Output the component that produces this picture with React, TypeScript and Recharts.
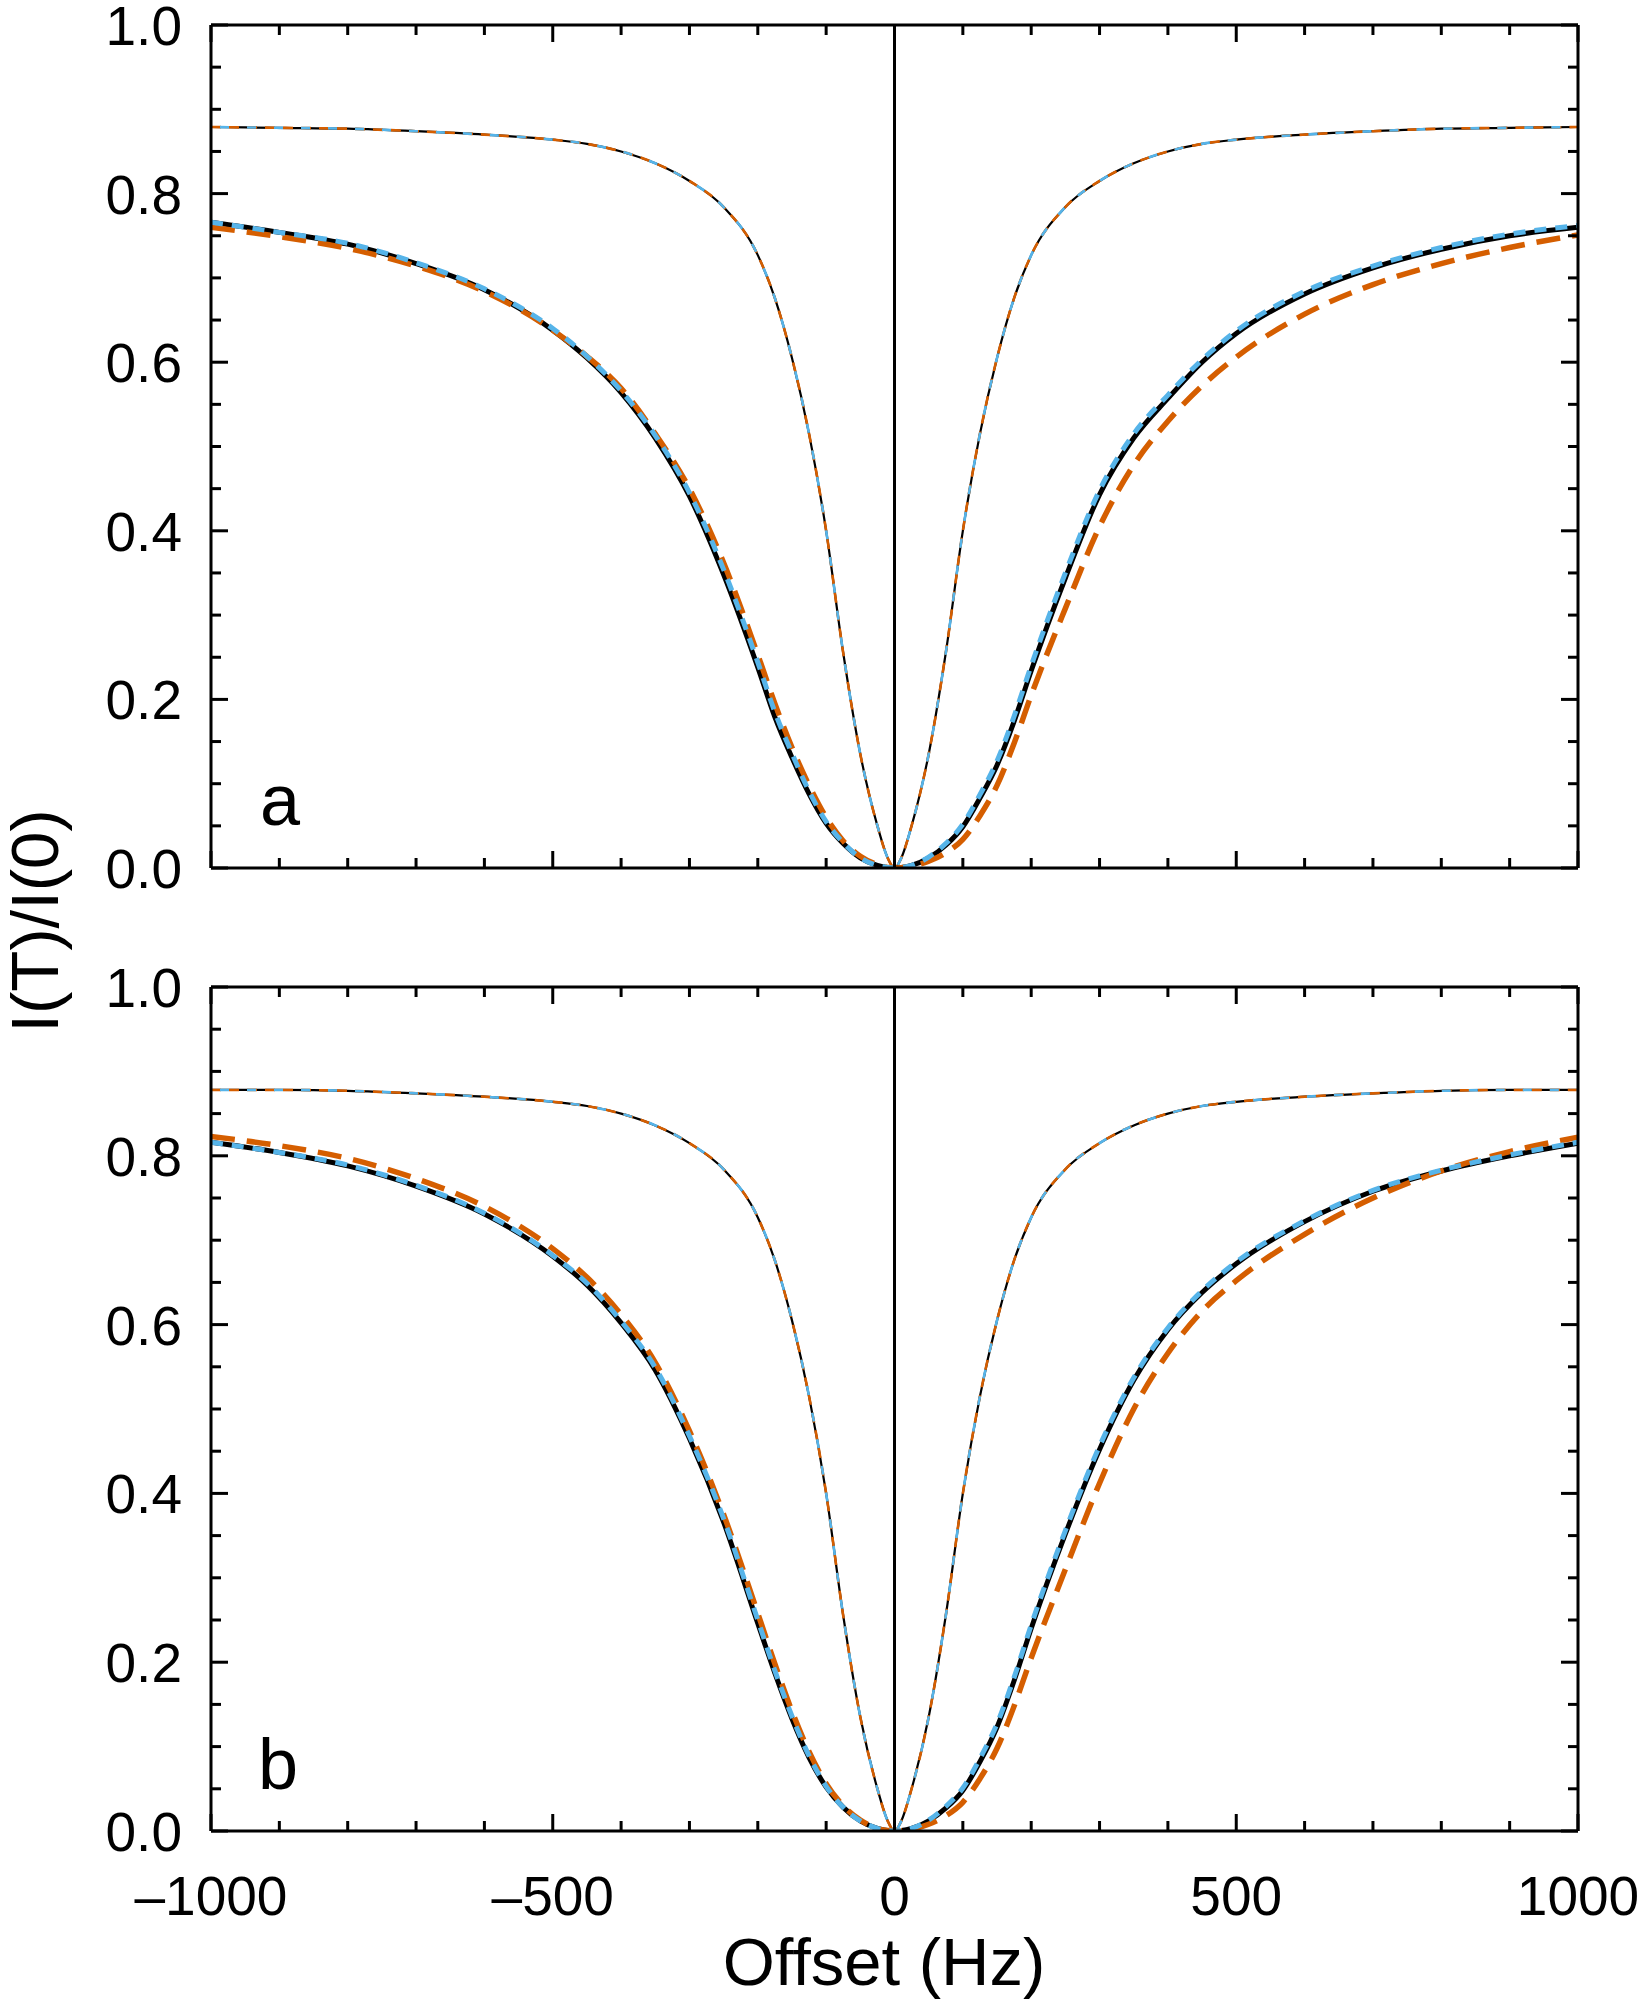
import React from 'react';
import { LineChart, Line, XAxis, YAxis, ReferenceLine } from 'recharts';

// ---------- data ----------
const offsets = [
  -1000, -900, -800, -700, -600, -500, -450, -400, -350, -300, -250, -200, -175, -150, -125, -100, -75, -50, -25, -10,
  0,
  10, 25, 50, 75, 100, 125, 150, 175, 200, 250, 300, 350, 400, 450, 500, 600, 700, 800, 900, 1000,
];

// panel a
const narrowA = [
  0.879, 0.878, 0.877, 0.874, 0.870, 0.864, 0.859, 0.850, 0.836, 0.815, 0.784, 0.727, 0.676, 0.605, 0.515, 0.400, 0.255, 0.135, 0.050, 0.012,
  0,
  0.012, 0.050, 0.135, 0.255, 0.400, 0.515, 0.605, 0.676, 0.727, 0.784, 0.815, 0.836, 0.850, 0.859, 0.864, 0.870, 0.874, 0.877, 0.878, 0.879,
];
const wideBlackA = [
  0.766, 0.754, 0.740, 0.717, 0.686, 0.638, 0.605, 0.564, 0.510, 0.441, 0.348, 0.238, 0.179, 0.131, 0.088, 0.053, 0.029, 0.012, 0.003, 0.0005,
  0,
  0.0005, 0.003, 0.012, 0.027, 0.049, 0.083, 0.122, 0.174, 0.234, 0.344, 0.443, 0.510, 0.557, 0.600, 0.634, 0.681, 0.712, 0.734, 0.750, 0.760,
];
const wideBlueA = [
  0.766, 0.754, 0.741, 0.718, 0.687, 0.640, 0.607, 0.566, 0.513, 0.445, 0.354, 0.244, 0.185, 0.136, 0.091, 0.055, 0.030, 0.012, 0.003, 0.0005,
  0,
  0.0005, 0.003, 0.013, 0.029, 0.052, 0.087, 0.127, 0.180, 0.240, 0.350, 0.448, 0.515, 0.561, 0.603, 0.637, 0.684, 0.714, 0.736, 0.752, 0.762,
];
const wideOrangeA = [
  0.760, 0.749, 0.735, 0.714, 0.684, 0.638, 0.607, 0.569, 0.515, 0.450, 0.362, 0.253, 0.195, 0.143, 0.098, 0.060, 0.032, 0.014, 0.004, 0.0006,
  0,
  0.0003, 0.002, 0.008, 0.018, 0.034, 0.062, 0.098, 0.148, 0.205, 0.308, 0.405, 0.478, 0.530, 0.572, 0.606, 0.657, 0.692, 0.717, 0.736, 0.751,
];

// panel b
const narrowB = [
  0.878, 0.878, 0.877, 0.874, 0.870, 0.864, 0.859, 0.850, 0.836, 0.815, 0.784, 0.727, 0.676, 0.605, 0.515, 0.400, 0.255, 0.135, 0.050, 0.012,
  0,
  0.012, 0.050, 0.135, 0.255, 0.400, 0.515, 0.605, 0.676, 0.727, 0.784, 0.815, 0.836, 0.850, 0.859, 0.864, 0.870, 0.874, 0.877, 0.878, 0.878,
];
const wideBlackB = [
  0.816, 0.804, 0.788, 0.764, 0.731, 0.681, 0.647, 0.602, 0.546, 0.465, 0.366, 0.246, 0.187, 0.133, 0.087, 0.052, 0.028, 0.012, 0.003, 0.0005,
  0,
  0.0005, 0.003, 0.012, 0.027, 0.048, 0.082, 0.123, 0.178, 0.240, 0.352, 0.452, 0.534, 0.594, 0.638, 0.672, 0.722, 0.758, 0.782, 0.800, 0.815,
];
const wideBlueB = [
  0.816, 0.804, 0.789, 0.765, 0.732, 0.682, 0.649, 0.604, 0.549, 0.468, 0.370, 0.250, 0.190, 0.136, 0.089, 0.053, 0.028, 0.012, 0.003, 0.0005,
  0,
  0.0005, 0.003, 0.013, 0.029, 0.051, 0.086, 0.127, 0.182, 0.244, 0.356, 0.456, 0.537, 0.596, 0.640, 0.674, 0.723, 0.759, 0.783, 0.801, 0.816,
];
const wideOrangeB = [
  0.823, 0.812, 0.797, 0.773, 0.740, 0.690, 0.656, 0.612, 0.555, 0.474, 0.375, 0.258, 0.198, 0.142, 0.094, 0.056, 0.030, 0.013, 0.003, 0.0006,
  0,
  0.0003, 0.002, 0.008, 0.018, 0.034, 0.062, 0.098, 0.148, 0.205, 0.310, 0.412, 0.500, 0.566, 0.616, 0.652, 0.707, 0.750, 0.782, 0.805, 0.822,
];

// ticks
const xTicks = [-1000, -900, -800, -700, -600, -500, -400, -300, -200, -100, 0, 100, 200, 300, 400, 500, 600, 700, 800, 900, 1000];
const xMajorTicks = [-1000, -500, 0, 500, 1000];
const xTickLabels = ['\u20131000', '\u2013500', '0', '500', '1000'];
const yTicks = [0, 0.05, 0.1, 0.15, 0.2, 0.25, 0.3, 0.35, 0.4, 0.45, 0.5, 0.55, 0.6, 0.65, 0.7, 0.75, 0.8, 0.85, 0.9, 0.95, 1];
const yMajorTicks = [0, 0.2, 0.4, 0.6, 0.8, 1];
const yTickLabels = ['0.0', '0.2', '0.4', '0.6', '0.8', '1.0'];

const xLabel = 'Offset (Hz)';
const yLabel = 'I(T)/I(0)';

// ---------- styling ----------
const FONT = '"Liberation Sans", Arial, Helvetica, sans-serif';
const BLACK = '#000000';
const ORANGE = '#D55E00';
const BLUE = '#56B4E9';
const W = 1651;

const buildRows = (n: number[], k: number[], o: number[], b: number[]) =>
  offsets.map((x, i) => ({ x, nk: n[i], no: n[i], nb: n[i], wk: k[i], wo: o[i], wb: b[i] }));

const rowsA = buildRows(narrowA, wideBlackA, wideOrangeA, wideBlueA);
const rowsB = buildRows(narrowB, wideBlackB, wideOrangeB, wideBlueB);

const majorIndex = (arr: number[], v: number) => arr.findIndex((m) => Math.abs(m - v) < 1e-6);

const makeXTick = (dir: number, withLabels: boolean) => (props: any) => {
  const { x, y, payload } = props;
  const idx = majorIndex(xMajorTicks, payload.value);
  const len = idx >= 0 ? 17 : 10;
  return (
    <g>
      <line x1={x} x2={x} y1={y} y2={y + dir * len} stroke={BLACK} strokeWidth={3} />
      {withLabels && idx >= 0 ? (
        <text x={x} y={y + 84} textAnchor="middle" fontFamily={FONT} fontSize={55} fill={BLACK}>
          {xTickLabels[idx]}
        </text>
      ) : null}
    </g>
  );
};

const makeYTick = (dir: number, withLabels: boolean) => (props: any) => {
  const { x, y, payload } = props;
  const idx = majorIndex(yMajorTicks, payload.value);
  const len = idx >= 0 ? 17 : 10;
  return (
    <g>
      <line x1={x} x2={x + dir * len} y1={y} y2={y} stroke={BLACK} strokeWidth={3} />
      {withLabels && idx >= 0 ? (
        <text x={x - 29} y={y + 20} textAnchor="end" fontFamily={FONT} fontSize={55} fill={BLACK}>
          {yTickLabels[idx]}
        </text>
      ) : null}
    </g>
  );
};

const axisLineStyle = { stroke: BLACK, strokeWidth: 3 };

function Panel({
  rows,
  height,
  topAxisHeight,
  bottomAxisHeight,
  showXLabels,
}: {
  rows: any[];
  height: number;
  topAxisHeight: number;
  bottomAxisHeight: number;
  showXLabels: boolean;
}) {
  return (
    <LineChart width={W} height={height} data={rows} margin={{ top: 0, right: 0, bottom: 0, left: 0 }}>
      <XAxis
        dataKey="x"
        type="number"
        domain={[-1000, 1000]}
        ticks={xTicks}
        interval={0}
        allowDataOverflow
        height={bottomAxisHeight}
        axisLine={axisLineStyle}
        tickLine={false}
        tickSize={0}
        tickMargin={0}
        tick={makeXTick(-1, showXLabels)}
      />
      <XAxis
        xAxisId="top"
        orientation="top"
        dataKey="x"
        type="number"
        domain={[-1000, 1000]}
        ticks={xTicks}
        interval={0}
        allowDataOverflow
        height={topAxisHeight}
        axisLine={axisLineStyle}
        tickLine={false}
        tickSize={0}
        tickMargin={0}
        tick={makeXTick(1, false)}
      />
      <YAxis
        type="number"
        domain={[0, 1]}
        ticks={yTicks}
        interval={0}
        allowDataOverflow
        width={211}
        axisLine={axisLineStyle}
        tickLine={false}
        tickSize={0}
        tickMargin={0}
        tick={makeYTick(1, true)}
      />
      <YAxis
        yAxisId="right"
        orientation="right"
        type="number"
        domain={[0, 1]}
        ticks={yTicks}
        interval={0}
        allowDataOverflow
        width={73}
        axisLine={axisLineStyle}
        tickLine={false}
        tickSize={0}
        tickMargin={0}
        tick={makeYTick(-1, false)}
      />
      <ReferenceLine x={0} stroke={BLACK} strokeWidth={3} />
      {/* narrow curves */}
      <Line dataKey="nk" type="monotone" stroke={BLACK} strokeWidth={2.2} dot={false} activeDot={false} isAnimationActive={false} />
      <Line dataKey="no" type="monotone" stroke={ORANGE} strokeWidth={2.6} strokeDasharray="10 8" dot={false} activeDot={false} isAnimationActive={false} />
      <Line dataKey="nb" type="monotone" stroke={BLUE} strokeWidth={2.6} strokeDasharray="9 18" strokeDashoffset={-9} dot={false} activeDot={false} isAnimationActive={false} />
      {/* wide curves */}
      <Line dataKey="wk" type="monotone" stroke={BLACK} strokeWidth={5} dot={false} activeDot={false} isAnimationActive={false} />
      <Line dataKey="wo" type="monotone" stroke={ORANGE} strokeWidth={5.5} strokeDasharray="24 12" dot={false} activeDot={false} isAnimationActive={false} />
      <Line dataKey="wb" type="monotone" stroke={BLUE} strokeWidth={5} strokeDasharray="12 9" dot={false} activeDot={false} isAnimationActive={false} />
    </LineChart>
  );
}

export default function App() {
  return (
    <div style={{ position: 'absolute', left: 0, top: 0, width: W, height: 2010, background: '#fff', overflow: 'hidden' }}>
      <div style={{ position: 'absolute', left: 0, top: 0 }}>
        <Panel rows={rowsA} height={900} topAxisHeight={25} bottomAxisHeight={32} showXLabels={false} />
      </div>
      <div style={{ position: 'absolute', left: 0, top: 912 }}>
        <Panel rows={rowsB} height={1098} topAxisHeight={75} bottomAxisHeight={179} showXLabels={true} />
      </div>
      <svg width={W} height={2010} style={{ position: 'absolute', left: 0, top: 0, pointerEvents: 'none' }}>
        <text x={58} y={921} transform="rotate(-90 58 921)" textAnchor="middle" fontFamily={FONT} fontSize={67} fill={BLACK}>
          {yLabel}
        </text>
        <text x={884} y={1985} textAnchor="middle" fontFamily={FONT} fontSize={67} fill={BLACK}>
          {xLabel}
        </text>
        <text x={260} y={825} fontFamily={FONT} fontSize={72} fill={BLACK}>a</text>
        <text x={258} y={1789} fontFamily={FONT} fontSize={72} fill={BLACK}>b</text>
      </svg>
    </div>
  );
}
